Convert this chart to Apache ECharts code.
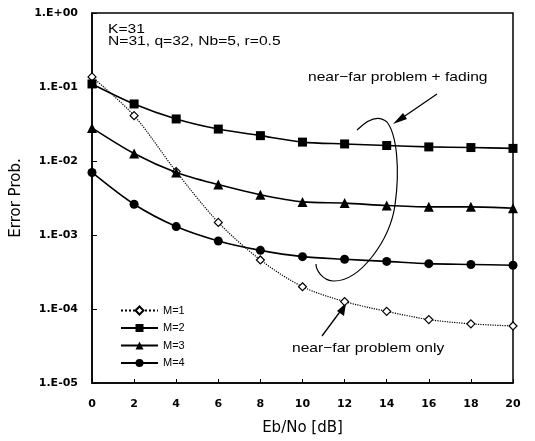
<!DOCTYPE html>
<html><head><meta charset="utf-8">
<script src="https://cdn.jsdelivr.net/npm/echarts@6/dist/echarts.min.js"></script>
<style>html,body{margin:0;padding:0;background:#fff}#c{width:535px;height:441px}</style>
</head><body><div id="c"></div>
<script>
var ebno = [0, 2, 4, 6, 8, 10, 12, 14, 16, 18, 20];
var m1 = [0.137, 0.041, 0.0072, 0.00148, 0.00046, 0.000200, 0.000126, 0.000093, 0.000072, 0.000063, 0.000059];
var m2 = [0.110, 0.059, 0.037, 0.027, 0.022, 0.018, 0.017, 0.0162, 0.0155, 0.0152, 0.0148];
var m3 = [0.028, 0.0126, 0.0070, 0.0048, 0.0035, 0.0028, 0.0027, 0.0025, 0.0024, 0.0024, 0.0023];
var m4 = [0.0070, 0.0026, 0.0013, 0.00083, 0.00062, 0.00051, 0.00047, 0.00044, 0.00041, 0.00040, 0.00039];
var seriesNames = ['M=1', 'M=2', 'M=3', 'M=4'];

var F = 'Liberation Sans, Arial, sans-serif';
var D = 'DejaVu Sans, sans-serif';
function pairs(arr){ return ebno.map(function(x,i){ return [x, arr[i]]; }); }
function mk(name, data, symbol, size, dotted, hollow){
  return {
    name: name, type: 'line', data: pairs(data), smooth: 0.3,
    symbol: symbol, symbolSize: size,
    lineStyle: {color: '#000', width: dotted ? 1.2 : 1.6, type: dotted ? 'dotted' : 'solid'},
    itemStyle: {color: hollow ? '#fff' : '#000', borderColor: '#000', borderWidth: hollow ? 1.2 : 0},
    z: dotted ? 3 : 4
  };
}
function bz(a){ return {type: 'bezierCurve', shape: {x1: a[0], y1: a[1], cpx1: a[2], cpy1: a[3], cpx2: a[4], cpy2: a[5], x2: a[6], y2: a[7]}, style: {stroke: '#000', fill: null, lineWidth: 1.2}}; }
function txt(s, x, y){ return {type: 'text', x: x, y: y, scaleX: 1.2, style: {text: s, x: 0, y: 0, font: '13px ' + F, fill: '#000', textVerticalAlign: 'middle', verticalAlign: 'middle'}}; }
var chart = echarts.init(document.getElementById('c'), null, {renderer: 'canvas'});
chart.setOption({
  animation: false,
  backgroundColor: '#fff',
  grid: {left: 92, right: 22, top: 13, bottom: 57, show: true, borderColor: '#000', borderWidth: 1.5},
  xAxis: {
    type: 'value', min: 0, max: 20, interval: 2,
    name: 'Eb/No [dB]', nameLocation: 'middle', nameGap: 38,
    nameTextStyle: {fontFamily: D, fontSize: 15, color: '#000'},
    axisLine: {lineStyle: {color: '#000', width: 1.5}},
    axisTick: {inside: true, length: 4, lineStyle: {color: '#000'}},
    axisLabel: {fontFamily: D, fontSize: 11, fontWeight: 'bold', color: '#000', margin: 16},
    splitLine: {show: false}
  },
  yAxis: {
    type: 'log', logBase: 10, min: 1e-5, max: 1,
    name: 'Error Prob.', nameLocation: 'middle', nameGap: 59,
    nameTextStyle: {fontFamily: D, fontSize: 15, color: '#000'},
    axisLine: {lineStyle: {color: '#000', width: 1.5}},
    axisTick: {inside: true, length: 5, lineStyle: {color: '#000'}},
    axisLabel: {fontFamily: D, fontSize: 11, fontWeight: 'bold', color: '#000', margin: 14,
      formatter: function(v){ var e = Math.round(Math.log10(v)); var s = Math.abs(e); return '1.E' + (e >= 0 ? '+' : '-') + (s < 10 ? '0' : '') + s; }},
    splitLine: {show: false}
  },
  legend: {
    orient: 'vertical', left: 115, top: 300, itemGap: 6.5, itemWidth: 37, itemHeight: 10,
    data: seriesNames,
    textStyle: {fontFamily: F, fontSize: 11, color: '#000'}
  },
  series: [
    mk(seriesNames[0], m1, 'diamond', 8, true, true),
    mk(seriesNames[1], m2, 'rect', 9, false, false),
    mk(seriesNames[2], m3, 'triangle', 10, false, false),
    mk(seriesNames[3], m4, 'circle', 9, false, false)
  ],
  graphic: [
    txt('K=31', 108, 29),
    txt('N=31, q=32, Nb=5, r=0.5', 108, 41),
    txt('near\u2212far problem + fading', 308, 77),
    txt('near\u2212far problem only', 292, 348),
    bz([357, 130, 367, 120, 378, 114, 387, 122]),
    bz([387, 122, 397, 135, 400, 170, 395, 205]),
    bz([395, 205, 390, 240, 360, 282, 333, 281]),
    bz([333, 281, 322, 280, 316, 270, 316, 264]),
    {type: 'line', shape: {x1: 437, y1: 94, x2: 399, y2: 120}, style: {stroke: '#000', lineWidth: 1.3}},
    {type: 'polygon', shape: {points: [[393, 124], [403, 113], [407, 119]]}, style: {fill: '#000'}},
    {type: 'line', shape: {x1: 322, y1: 336, x2: 342, y2: 309}, style: {stroke: '#000', lineWidth: 1.3}},
    {type: 'polygon', shape: {points: [[346, 303], [344, 316], [337, 311]]}, style: {fill: '#000'}}
  ]
});
</script>
</body></html>
